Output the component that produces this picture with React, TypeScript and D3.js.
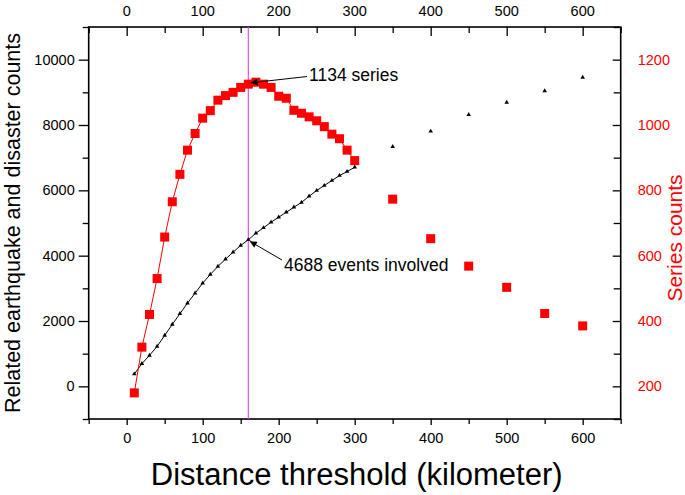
import React, { useEffect, useRef } from 'react';
import * as d3 from 'd3';

// distance thresholds (km)
const lineDist = [10, 20, 30, 40, 50, 60, 70, 80, 90, 100, 110, 120, 130, 140, 150, 160, 170, 180, 190, 200, 210, 220, 230, 240, 250, 260, 270, 280, 290, 300];
const extraDist = [350, 400, 450, 500, 550, 600];

// related earthquake and disaster counts (left axis)
const eventCounts = [376, 694, 948, 1223, 1560, 1896, 2222, 2548, 2853, 3159, 3425, 3670, 3893, 4107, 4312, 4486, 4688, 4853, 5025, 5177, 5330, 5483, 5630, 5820, 5994, 6147, 6300, 6453, 6575, 6707];
const eventCountsExtra = [7339, 7808, 8318, 8694, 9043, 9459];

// series counts (right axis)
const seriesCounts = [180, 320, 420, 530, 657, 765, 849, 923, 974, 1021, 1044, 1076, 1090, 1100, 1115, 1125, 1131, 1125, 1115, 1088, 1082, 1045, 1036, 1025, 1013, 995, 972, 958, 923, 891];
const seriesCountsExtra = [773, 652, 568, 503, 423, 385];

const xTicks = [0, 100, 200, 300, 400, 500, 600];
const xMinor = [-50, 50, 150, 250, 350, 450, 550, 650];
const leftTicks = [0, 2000, 4000, 6000, 8000, 10000];
const leftMinor = [-1000, 1000, 3000, 5000, 7000, 9000, 11000];
const rightTicks = [200, 400, 600, 800, 1000, 1200];
const rightMinor = [100, 300, 500, 700, 900, 1100, 1300];

const threshold = 160;

const FONT = '"Liberation Sans", Arial, sans-serif';

const App = () => {
  const ref = useRef<SVGSVGElement>(null);

  useEffect(() => {
    const svg = d3.select(ref.current);
    svg.selectAll('*').remove();

    const left = 88.7, right = 620.7, top = 27, bottom = 419;
    const x = d3.scaleLinear().domain([-50, 650]).range([left, right]);
    const yL = d3.scaleLinear().domain([-1000, 11000]).range([bottom, top]);
    const yR = d3.scaleLinear().domain([100, 1300]).range([bottom, top]);

    svg.append('defs').append('marker')
      .attr('id', 'arrow')
      .attr('viewBox', '0 0 10 10')
      .attr('refX', 10).attr('refY', 5)
      .attr('markerWidth', 10).attr('markerHeight', 7)
      .attr('markerUnits', 'userSpaceOnUse')
      .attr('orient', 'auto')
      .append('path').attr('d', 'M0,0L10,5L0,10Z').attr('fill', '#000');

    // axes
    const styleAxis = (g, color = '#000', size = 14.5) => {
      g.select('.domain').remove();
      g.selectAll('line').attr('stroke', '#000').attr('stroke-width', 1.3);
      g.selectAll('text').attr('fill', color).style('font-family', FONT).style('font-size', size + 'px');
    };

    const fmt = d3.format('d');

    svg.append('g').attr('transform', `translate(0,${bottom})`)
      .call(d3.axisBottom(x).tickValues(xTicks).tickSize(6).tickPadding(8).tickFormat(fmt))
      .call(g => styleAxis(g));
    svg.append('g').attr('transform', `translate(0,${bottom})`)
      .call(d3.axisBottom(x).tickValues(xMinor).tickSize(5).tickFormat(() => ''))
      .call(g => styleAxis(g));

    svg.append('g').attr('transform', `translate(0,${top})`)
      .call(d3.axisBottom(x).tickValues(xTicks).tickSize(9).tickFormat(() => ''))
      .call(g => styleAxis(g));
    svg.append('g').attr('transform', `translate(0,${top})`)
      .call(d3.axisBottom(x).tickValues(xMinor).tickSize(6).tickFormat(() => ''))
      .call(g => styleAxis(g));
    xTicks.forEach(t => {
      svg.append('text').attr('x', x(t)).attr('y', 16).attr('text-anchor', 'middle')
        .style('font-family', FONT).style('font-size', '14.5px').text(t);
    });

    svg.append('g').attr('transform', `translate(${left},0)`)
      .call(d3.axisLeft(yL).tickValues(leftTicks).tickSize(10).tickPadding(4).tickFormat(fmt))
      .call(g => styleAxis(g));
    svg.append('g').attr('transform', `translate(${left},0)`)
      .call(d3.axisLeft(yL).tickValues(leftMinor).tickSize(6).tickFormat(() => ''))
      .call(g => styleAxis(g));

    svg.append('g').attr('transform', `translate(${right},0)`)
      .call(d3.axisRight(yR).tickValues(rightTicks).tickSize(-8).tickPadding(17).tickFormat(fmt))
      .call(g => styleAxis(g, '#ff0000'));
    svg.append('g').attr('transform', `translate(${right},0)`)
      .call(d3.axisRight(yR).tickValues(rightMinor).tickSize(-7).tickFormat(() => ''))
      .call(g => styleAxis(g));

    // frame
    svg.append('rect')
      .attr('x', left).attr('y', top)
      .attr('width', right - left).attr('height', bottom - top)
      .attr('fill', 'none').attr('stroke', '#000').attr('stroke-width', 1.6);

    // threshold line
    svg.append('line')
      .attr('x1', x(threshold)).attr('x2', x(threshold))
      .attr('y1', top).attr('y2', bottom)
      .attr('stroke', '#e040e0').attr('stroke-width', 1.1);

    // event counts (black)
    const lineL = d3.line<number>().x((d, i) => x(lineDist[i])).y(d => yL(d));
    svg.append('path').attr('d', lineL(eventCounts))
      .attr('fill', 'none').attr('stroke', '#000').attr('stroke-width', 1);

    const tri = d3.symbol().type(d3.symbolTriangle).size(9);
    const triPts = lineDist.map((d, i) => [d, eventCounts[i]])
      .concat(extraDist.map((d, i) => [d, eventCountsExtra[i]]));
    svg.append('g').selectAll('path').data(triPts).enter().append('path')
      .attr('d', tri)
      .attr('transform', d => `translate(${x(d[0])},${yL(d[1])})`)
      .attr('fill', '#000');

    // series counts (red)
    const lineR = d3.line<number>().x((d, i) => x(lineDist[i])).y(d => yR(d));
    svg.append('path').attr('d', lineR(seriesCounts))
      .attr('fill', 'none').attr('stroke', '#ff0000').attr('stroke-width', 1);

    const sqPts = lineDist.map((d, i) => [d, seriesCounts[i]])
      .concat(extraDist.map((d, i) => [d, seriesCountsExtra[i]]));
    const s = 9;
    svg.append('g').selectAll('rect').data(sqPts).enter().append('rect')
      .attr('x', d => x(d[0]) - s / 2).attr('y', d => yR(d[1]) - s / 2)
      .attr('width', s).attr('height', s)
      .attr('fill', '#ff0000');

    // annotations
    svg.append('line')
      .attr('x1', 307).attr('y1', 76.5)
      .attr('x2', x(163)).attr('y2', yR(1129))
      .attr('stroke', '#000').attr('stroke-width', 1).attr('marker-end', 'url(#arrow)');
    svg.append('text').attr('x', 309).attr('y', 81)
      .style('font-family', FONT).style('font-size', '17.5px').text('1134 series');

    svg.append('line')
      .attr('x1', 282).attr('y1', 260)
      .attr('x2', x(162)).attr('y2', yL(4440))
      .attr('stroke', '#000').attr('stroke-width', 1).attr('marker-end', 'url(#arrow)');
    svg.append('text').attr('x', 284).attr('y', 271)
      .style('font-family', FONT).style('font-size', '17.5px').text('4688 events involved');

    // axis titles
    svg.append('text')
      .attr('transform', `translate(20,${(top + bottom) / 2}) rotate(-90)`)
      .attr('text-anchor', 'middle')
      .style('font-family', FONT).style('font-size', '21.5px')
      .text('Related earthquake and disaster counts');
    svg.append('text')
      .attr('transform', `translate(682,${238}) rotate(-90)`)
      .attr('text-anchor', 'middle').attr('fill', '#ff0000')
      .style('font-family', FONT).style('font-size', '21px')
      .text('Series counts');
    svg.append('text')
      .attr('x', (left + right) / 2 + 2).attr('y', 485)
      .attr('text-anchor', 'middle')
      .style('font-family', FONT).style('font-size', '31px')
      .text('Distance threshold (kilometer)');
  }, []);

  return (
    <svg ref={ref} width={685} height={495}
      style={{ position: 'absolute', left: 0, top: 0, background: '#fff' }} />
  );
};

export default App;
